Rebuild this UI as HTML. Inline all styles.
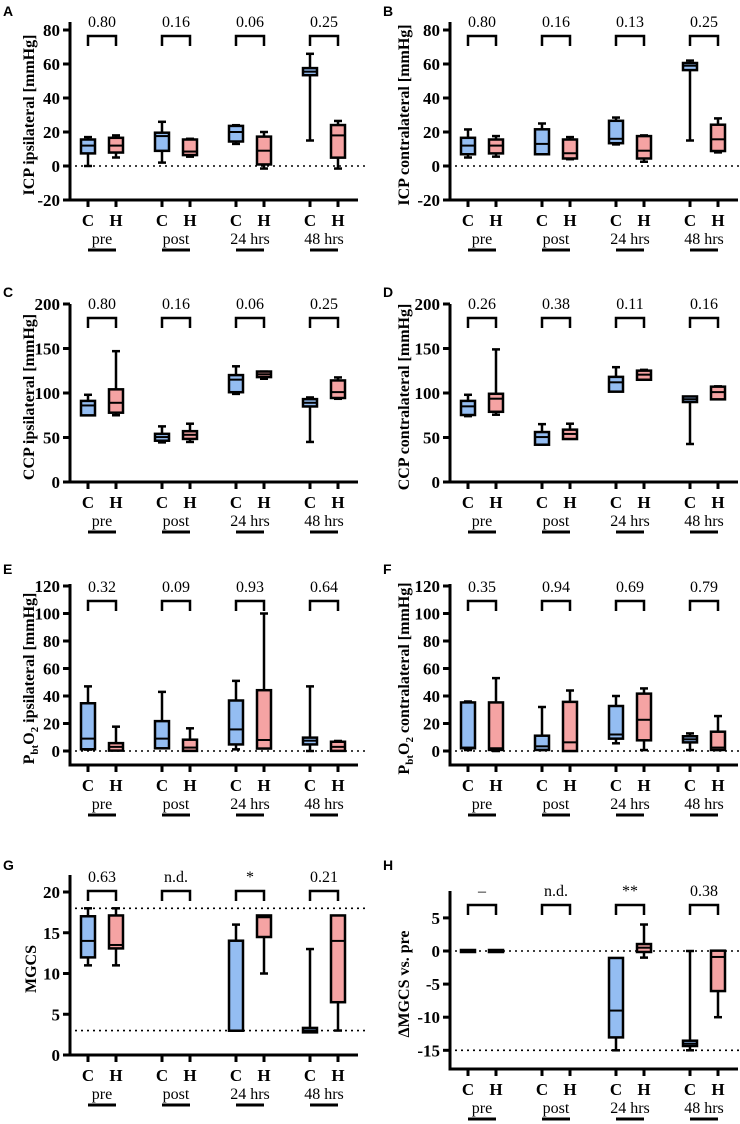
<!DOCTYPE html>
<html><head><meta charset="utf-8">
<style>
html,body{margin:0;padding:0;background:#fff;}
svg{display:block;}
</style></head>
<body>
<svg id="fig" width="740" height="1124" viewBox="0 0 740 1124" xmlns="http://www.w3.org/2000/svg"></svg>
<script>
const categories = ['pre','post','24 hrs','48 hrs'];
// each entry: [min, q1, median, q3, max]
const icpIpsiC = [[0,8,12,15,17],[2,9.5,17.6,19,26],[13,15,20,23,24],[15,54,55.5,57,66]];
const icpIpsiH = [[5,8.5,12,16,18],[5.5,7,8.5,15,16],[-1.5,1.5,9,16.7,20],[-1.5,5.5,18,23.5,26.5]];
const icpIpsiP = ['0.80','0.16','0.06','0.25'];
const icpContraC = [[5,7.5,12,16,21.5],[7,7.5,13,21,25],[12.7,14,16,26,28.5],[15,57,59,60,62]];
const icpContraH = [[5.5,8,12,15,17.6],[4,5,7.5,15,17],[2.5,5,9,17,18],[8,9.4,15.7,23.7,28]];
const icpContraP = ['0.80','0.16','0.13','0.25'];
const ccpIpsiC = [[75,76,86,90,98],[44.5,47.5,50.5,53,62.5],[99,102,115,119,130],[45,86,89,92,95]];
const ccpIpsiH = [[75,79,89,103,147],[45,49.5,53,56,65.5],[116,119,121,123,124],[93.5,95.5,101,113,117.5]];
const ccpIpsiP = ['0.80','0.16','0.06','0.25'];
const ccpContraC = [[74,76.4,85,90,98],[42,43,50.5,55,65],[102,102.6,112,117,129],[42.7,91,93,95,95.5]];
const ccpContraH = [[75.6,80,93.6,98,149],[48.7,49.4,54,57.7,65.5],[115,116,120.6,124,126],[94,94,101,106,107.5]];
const ccpContraP = ['0.26','0.38','0.11','0.16'];
const pbto2IpsiC = [[1,2,9,34,47],[2.5,2.7,9,21,43],[1.2,5.5,15.7,36,51],[0,5.5,7.5,9,47]];
const pbto2IpsiH = [[0.5,1,3,5,17.7],[0.5,0.8,2.5,7.5,16.5],[2,2.5,8,43.5,100],[1.5,0.8,3,6,7.3]];
const pbto2IpsiP = ['0.32','0.09','0.93','0.64'];
const pbto2ContraC = [[0.7,2.7,2.5,34.6,36],[0.7,1.5,3.4,10.4,32],[5.6,9.7,12,32,40],[0.7,7,8.5,10,12.8]];
const pbto2ContraH = [[0,1.5,2,34.6,53],[0.5,0.7,6.3,35,44],[0.7,8.5,22.7,41,45.5],[0.7,1.5,2.5,13.3,25.4]];
const pbto2ContraP = ['0.35','0.94','0.69','0.79'];
const mgcsC = [[11,12.1,14,16.9,18],null,[3,3.1,3,13.9,16],[3,2.9,3,3.2,13]];
const mgcsH = [[11,13.2,13.5,17,18],null,[10,14.6,16.9,17,17],[3,6.6,14,17,17]];
const mgcsP = ['0.63','n.d.','*','0.21'];
const dmgcsC = [[0,0,0,0,0],null,[-15,-12.9,-9,-1.2,-1.2],[-15,-14.2,-14,-13.7,0]];
const dmgcsH = [[0,0,0,0,0],null,[-1,0,0.5,0.9,4],[-10,-5.9,-0.9,-0.1,0]];
const dmgcsP = ['\u2013','n.d.','**','0.38'];

const NS='http://www.w3.org/2000/svg';
const svg=document.getElementById('fig');
const SERIF='"Liberation Serif", serif';
function mk(tag,attrs,parent){const e=document.createElementNS(NS,tag);for(const k in attrs)e.setAttribute(k,attrs[k]);(parent||svg).appendChild(e);return e;}

const panels=[
 {id:'A',name:'icp-ipsilateral',ox:0,top:22,xAxis:200,v0:0,p0:166,scale:1.7,ticks:[-20,0,20,40,60,80],dots:[0],title:'ICP ipsilateral [mmHg]',cD:icpIpsiC,hD:icpIpsiH,pv:icpIpsiP,ly:4,tx:30},
 {id:'B',name:'icp-contralateral',ox:380,top:22,xAxis:200,v0:0,p0:166,scale:1.7,ticks:[-20,0,20,40,60,80],dots:[0],title:'ICP contralateral [mmHg]',cD:icpContraC,hD:icpContraH,pv:icpContraP,ly:4,tx:405},
 {id:'C',name:'ccp-ipsilateral',ox:0,top:304,xAxis:482,v0:0,p0:482,scale:0.89,ticks:[0,50,100,150,200],dots:[],title:'CCP ipsilateral [mmHg]',cD:ccpIpsiC,hD:ccpIpsiH,pv:ccpIpsiP,ly:285,tx:30},
 {id:'D',name:'ccp-contralateral',ox:380,top:304,xAxis:482,v0:0,p0:482,scale:0.89,ticks:[0,50,100,150,200],dots:[],title:'CCP contralateral [mmHg]',cD:ccpContraC,hD:ccpContraH,pv:ccpContraP,ly:285,tx:405},
 {id:'E',name:'pbto2-ipsilateral',ox:0,top:584,xAxis:765,v0:0,p0:751,scale:1.375,ticks:[0,20,40,60,80,100,120],dots:[0],title:'ipsilateral [mmHg]',sub:true,cD:pbto2IpsiC,hD:pbto2IpsiH,pv:pbto2IpsiP,ly:562,tx:30},
 {id:'F',name:'pbto2-contralateral',ox:380,top:584,xAxis:765,v0:0,p0:751,scale:1.375,ticks:[0,20,40,60,80,100,120],dots:[0],title:'contralateral [mmHg]',sub:true,cD:pbto2ContraC,hD:pbto2ContraH,pv:pbto2ContraP,ly:562,tx:405},
 {id:'G',name:'mgcs',ox:0,top:875,xAxis:1055,v0:0,p0:1055,scale:8.15,ticks:[0,5,10,15,20],dots:[3,18],title:'MGCS',cD:mgcsC,hD:mgcsH,pv:mgcsP,ly:858,tx:32},
 {id:'H',name:'delta-mgcs',ox:380,top:891,xAxis:1069,v0:0,p0:951,scale:6.62,ticks:[-15,-10,-5,0,5],dots:[0,-15],title:'\u0394MGCS vs. pre',cD:dmgcsC,hD:dmgcsH,pv:dmgcsP,ly:858,tx:405},
];
const catC=[88,162,236,310], catGap=28;

function drawBox(g,x,d,fill,y){
  if(!d)return;
  const [mn,q1,md,q3,mx]=d;
  const hw=7,cw=4;
  mk('line',{x1:x,x2:x,y1:y(mx),y2:y(mn),stroke:'#000','stroke-width':2.5},g);
  mk('line',{x1:x-cw,x2:x+cw,y1:y(mx),y2:y(mx),stroke:'#000','stroke-width':2.5},g);
  mk('line',{x1:x-cw,x2:x+cw,y1:y(mn),y2:y(mn),stroke:'#000','stroke-width':2.5},g);
  const yt=y(Math.max(q1,q3)),yb=y(Math.min(q1,q3));
  const r=mk('rect',{x:x-hw,y:yt-1,width:hw*2,height:Math.max(yb-yt,0)+2,fill:fill,stroke:'#000','stroke-width':2.5},g);
  
  
  mk('line',{x1:x-hw,x2:x+hw,y1:y(md),y2:y(md),stroke:'#000','stroke-width':2},g);
}

panels.forEach(p=>{
  const g=mk('g',{});
  
  
  const ax=70+p.ox;
  const y=v=>p.p0-(v-p.v0)*p.scale;
  const L=mk('text',{x:p.ox+3,y:p.ly+12,'font-family':'"Liberation Sans", sans-serif','font-weight':'bold','font-size':14},g);L.textContent=p.id;
  
  
  p.dots.forEach(v=>{
    const dl=mk('line',{x1:ax+5,x2:ax+296,y1:y(v),y2:y(v),stroke:'#000','stroke-width':1.6,'stroke-dasharray':'2,4'},g);
    
    
  });
  const ya=mk('line',{x1:ax,x2:ax,y1:p.top,y2:p.xAxis+1.5,stroke:'#000','stroke-width':3},g);
  
  
  const xa=mk('line',{x1:ax-1.5,x2:ax+288,y1:p.xAxis,y2:p.xAxis,stroke:'#000','stroke-width':3},g);
  
  
  p.ticks.forEach(t=>{
    mk('line',{x1:ax-7,x2:ax,y1:y(t),y2:y(t),stroke:'#000','stroke-width':3},g);
    const tl=mk('text',{x:ax-10,y:y(t)+6,'font-family':SERIF,'font-weight':'bold','font-size':17,'text-anchor':'end'},g);tl.textContent=t;
    
    
  });
  const cy=(p.top+p.xAxis)/2+4;
  const tt=mk('text',{x:0,y:0,'font-family':SERIF,'font-weight':'bold','font-size':16,'text-anchor':'middle',transform:`translate(${p.tx+4},${cy}) rotate(-90)`},g);
  
  
  if(p.sub){
    const a=mk('tspan',{},tt);a.textContent='P';
    const b=mk('tspan',{dy:4,'font-size':'11'},tt);b.textContent='bt';
    const c=mk('tspan',{dy:-4},tt);c.textContent='O';
    const d=mk('tspan',{dy:4,'font-size':'11'},tt);d.textContent='2';
    const e=mk('tspan',{dy:-4},tt);e.textContent=' '+p.title;
  } else tt.textContent=p.title;
  categories.forEach((cat,i)=>{
    const xc=catC[i]+p.ox, xh=xc+catGap;
    [xc,xh].forEach((xx,j)=>{
      mk('line',{x1:xx,x2:xx,y1:p.xAxis,y2:p.xAxis+7,stroke:'#000','stroke-width':3},g);
      const cl=mk('text',{x:xx,y:p.xAxis+26,'font-family':SERIF,'font-weight':'bold','font-size':17,'text-anchor':'middle'},g);cl.textContent=j?'H':'C';
      
      
    });
    const gl=mk('text',{x:(xc+xh)/2,y:p.xAxis+44,'font-family':SERIF,'font-size':16,'text-anchor':'middle'},g);gl.textContent=cat;
    
    
    mk('line',{x1:xc,x2:xh,y1:p.xAxis+50,y2:p.xAxis+50,stroke:'#000','stroke-width':3},g);
    const by=p.xAxis-164;
    const br=mk('path',{d:`M${xc},${by+10}V${by}H${xh}V${by+10}`,fill:'none',stroke:'#000','stroke-width':2.5},g);
    
    
    const pt=mk('text',{x:(xc+xh)/2,y:p.xAxis-173,'font-family':SERIF,'font-size':16,'text-anchor':'middle'},g);pt.textContent=p.pv[i];
    
    
    drawBox(g,xc,p.cD[i],'#94bdf2',y);
    drawBox(g,xh,p.hD[i],'#f5a3a3',y);
  });
});
</script>
</body></html>
